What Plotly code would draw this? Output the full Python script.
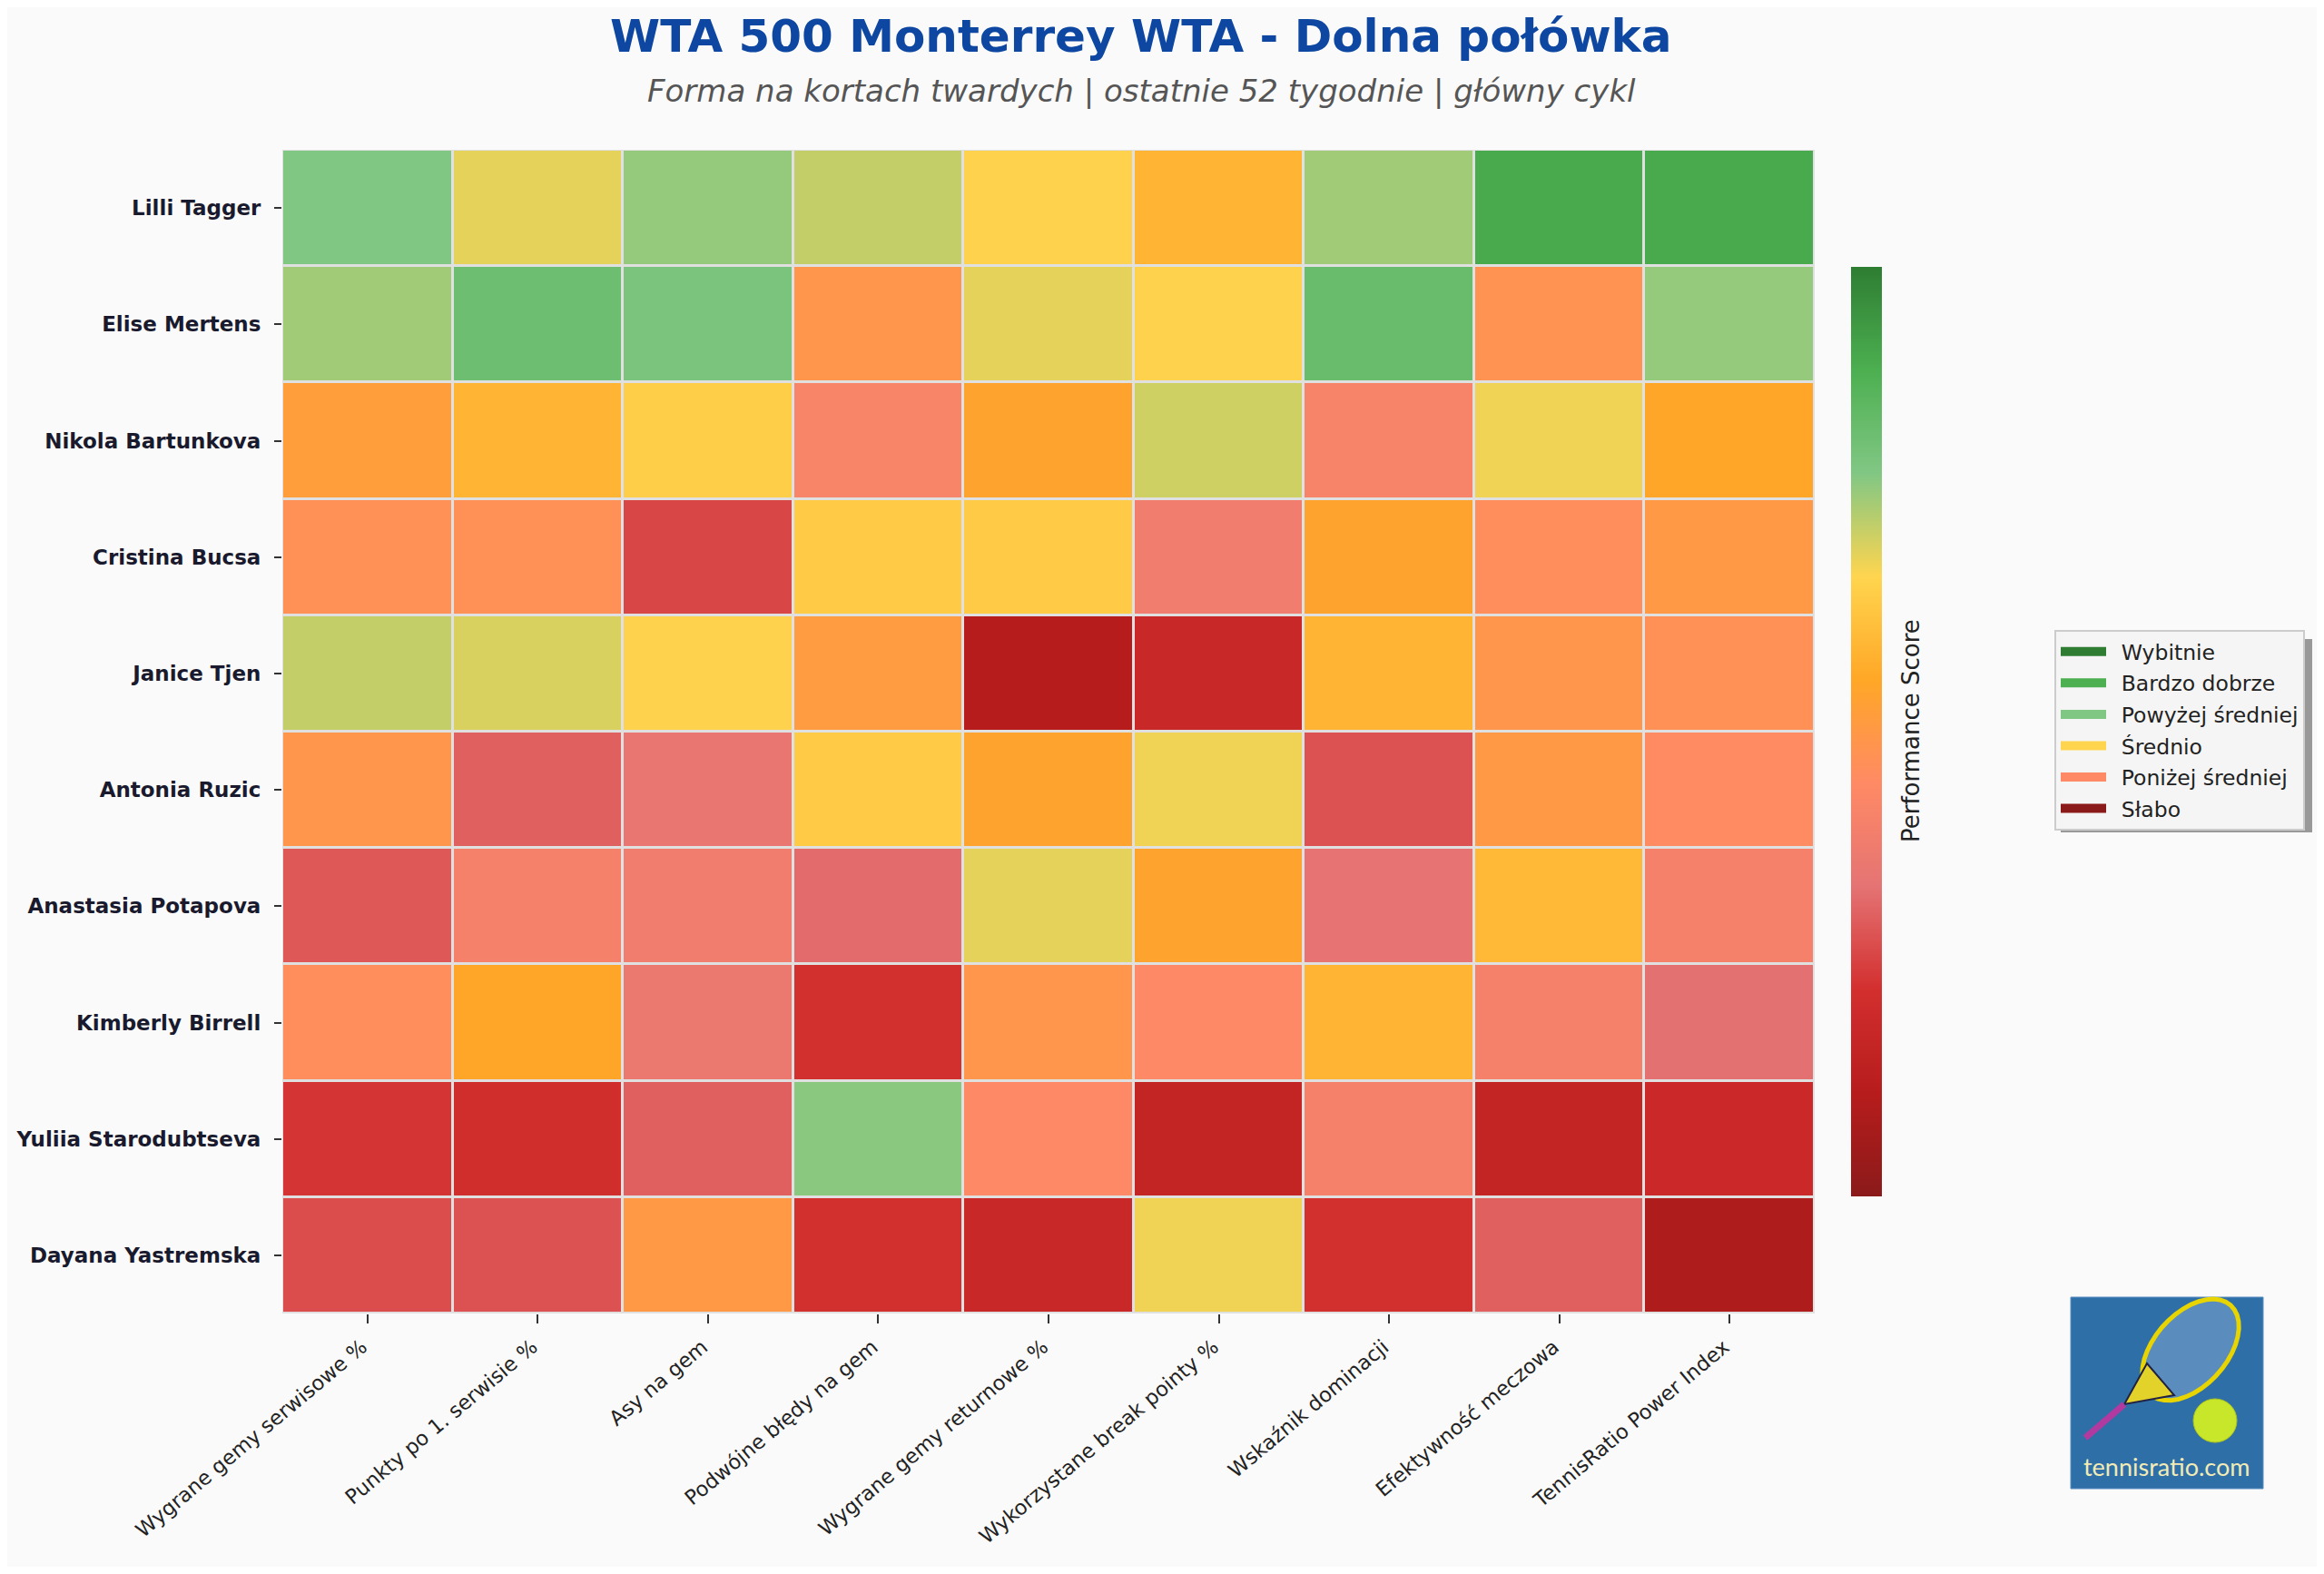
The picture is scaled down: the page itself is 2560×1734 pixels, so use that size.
import numpy as np
import plotly.graph_objects as go

# players (top -> bottom) and metrics (left -> right)
players = ['Lilli Tagger', 'Elise Mertens', 'Nikola Bartunkova', 'Cristina Bucsa', 'Janice Tjen',
           'Antonia Ruzic', 'Anastasia Potapova', 'Kimberly Birrell', 'Yuliia Starodubtseva', 'Dayana Yastremska']
metrics = ['Wygrane gemy serwisowe %', 'Punkty po 1. serwisie %', 'Asy na gem', 'Podwójne błędy na gem',
           'Wygrane gemy returnowe %', 'Wykorzystane break pointy %', 'Wskaźnik dominacji',
           'Efektywność meczowa', 'TennisRatio Power Index']

# performance score 0-100
tagger      = [78, 69, 76, 72, 66, 59, 75, 90, 90]
mertens     = [75, 82, 79, 49, 69, 66, 83, 48, 76]
bartunkova  = [52, 59, 65, 42, 54, 71, 41, 68, 55]
bucsa       = [47, 47, 26, 64, 64, 38, 54, 46, 50]
tjen        = [72, 70, 66, 51, 11, 18, 59, 49, 47]
ruzic       = [49, 30, 35, 64, 54, 68, 28, 50, 45]
potapova    = [29, 40, 38, 32, 69, 54, 34, 60, 40]
birrell     = [46, 55, 36, 22, 49, 44, 59, 40, 33]
starodubtseva = [23, 21, 30, 77, 44, 16, 40, 16, 19]
yastremska  = [27, 28, 50, 22, 18, 68, 22, 30, 9]

scores = [tagger, mertens, bartunkova, bucsa, tjen, ruzic, potapova, birrell, starodubtseva, yastremska]

cmap_colors = ['#8B1A1A', '#B71C1C', '#D32F2F', '#E57373', '#FF8A65',
               '#FFA726', '#FFD54F', '#81C784', '#4CAF50', '#2E7D32']

legend_labels = ['Wybitnie', 'Bardzo dobrze', 'Powyżej średniej', 'Średnio', 'Poniżej średniej', 'Słabo']
legend_colors = ['#2E7D32', '#4CAF50', '#81C784', '#FFD54F', '#FF8A65', '#8B1A1A']

# page is 2560x1734, html body has an 8px margin
PAD = 8
W, H = 2560 - 2 * PAD, 1734 - 2 * PAD
PLOT_X0, PLOT_X1, PLOT_Y0, PLOT_Y1 = 311, 1999, 165, 1447   # plot area in page pixels
PW, PH = PLOT_X1 - PLOT_X0, PLOT_Y1 - PLOT_Y0
L, T = PLOT_X0 - PAD, PLOT_Y0 - PAD
R, B = W - L - PW, H - T - PH


def px(x):  # page pixel -> paper x
    return (x - PLOT_X0) / PW


def py(y):  # page pixel -> paper y
    return (PLOT_Y1 - y) / PH


colorscale = [[i / (len(cmap_colors) - 1), c] for i, c in enumerate(cmap_colors)]

fig = go.Figure()
fig.add_trace(go.Heatmap(
    z=scores, x=metrics, y=players, zmin=0, zmax=100,
    colorscale=colorscale, xgap=3, ygap=3,
    colorbar=dict(thickness=34, lenmode='pixels', len=1024, x=px(2039), xanchor='left', xpad=0, ypad=0,
                  y=0.5, yanchor='middle', outlinewidth=0, ticks='', showticklabels=False),
    showlegend=False,
))

# legend entries (patches); the en space pushes the text away from the patch
for lab, col in zip(legend_labels, legend_colors):
    fig.add_trace(go.Scatter(x=[None], y=[None], mode='lines', name='\u2002' + lab, legendgroup=lab,
                             line=dict(color=col, width=18), hoverinfo='skip'))

shapes = []
# legend shadow
shapes.append(dict(type='rect', xref='paper', yref='paper', layer='below',
                   x0=px(2270), x1=px(2547), y0=py(917), y1=py(704),
                   fillcolor='#999999', line=dict(width=0)))

# logo (tennisratio.com)
shapes.append(dict(type='rect', xref='paper', yref='paper', x0=px(2281), x1=px(2493), y0=py(1640), y1=py(1429),
                   fillcolor='#2F6FA8', line=dict(color='#5B8EC0', width=1)))
t = np.linspace(0, 2 * np.pi, 40)
ang = np.deg2rad(-48)
cx, cy, a, b = 2413, 1487, 66, 40
ex = cx + a * np.cos(t) * np.cos(ang) - b * np.sin(t) * np.sin(ang)
ey = cy + a * np.cos(t) * np.sin(ang) + b * np.sin(t) * np.cos(ang)
head = 'M ' + ' L '.join(f'{px(x_):.5f},{py(y_):.5f}' for x_, y_ in zip(ex, ey)) + ' Z'
shapes.append(dict(type='path', xref='paper', yref='paper', path=head,
                   fillcolor='rgba(120,160,205,0.6)', line=dict(color='#E8D400', width=5)))
throat = f'M {px(2340)},{py(1547)} L {px(2365)},{py(1502)} L {px(2395)},{py(1537)} Z'
shapes.append(dict(type='path', xref='paper', yref='paper', path=throat,
                   fillcolor='#E3D22A', line=dict(color='#222244', width=2)))
shapes.append(dict(type='line', xref='paper', yref='paper', x0=px(2340), y0=py(1547), x1=px(2297), y1=py(1584),
                   line=dict(color='#B03AA0', width=7)))
shapes.append(dict(type='circle', xref='paper', yref='paper', x0=px(2416), x1=px(2464), y0=py(1589), y1=py(1541),
                   fillcolor='#C8E62A', line=dict(color='#A8C020', width=1)))

fig.update_layout(
    width=W, height=H,
    margin=dict(l=L, r=R, t=T, b=B),
    paper_bgcolor='#FAFAFA', plot_bgcolor='#E0E0E0',
    font=dict(family='DejaVu Sans', color='#222'),
    showlegend=True,
    legend=dict(x=px(2263), y=py(694), xanchor='left', yanchor='top',
                bgcolor='#F5F5F5', bordercolor='#CCCCCC', borderwidth=2,
                font=dict(family='DejaVu Sans', size=23.5, color='#222'),
                itemwidth=50, tracegroupgap=1),
    shapes=shapes,
    annotations=[
        dict(text='<b>WTA 500 Monterrey WTA - Dolna połówka</b>', xref='paper', yref='paper',
             x=px(1257), y=py(40), xanchor='center', yanchor='middle', showarrow=False,
             font=dict(family='DejaVu Sans', size=50, color='#0D47A1')),
        dict(text='Forma na kortach twardych | ostatnie 52 tygodnie | główny cykl', xref='paper', yref='paper',
             x=px(1257), y=py(100), xanchor='center', yanchor='middle', showarrow=False,
             font=dict(family='DejaVu Sans', size=34, color='#555555', style='italic')),
        dict(text='Performance Score', xref='paper', yref='paper', x=px(2105), y=py(805),
             xanchor='center', yanchor='middle', showarrow=False, textangle=-90,
             font=dict(family='DejaVu Sans', size=26, color='#222')),
        dict(text='tennisratio.com', xref='paper', yref='paper', x=px(2387), y=py(1615),
             xanchor='center', yanchor='middle', showarrow=False,
             font=dict(family='Lato', size=27, color='#F2EBB5')),
    ],
)

fig.update_xaxes(tickangle=-40, ticks='outside', ticklen=10, tickwidth=2, tickcolor='#333',
                 ticklabelstandoff=4, ticklabelshift=-6, automargin=False,
                 tickfont=dict(family='DejaVu Sans', size=22.5, color='#222'), showgrid=False, zeroline=False)
fig.update_yaxes(autorange='reversed', ticks='outside', ticklen=8, tickwidth=2, tickcolor='#333',
                 ticklabelstandoff=10, automargin=False,
                 tickfont=dict(family='DejaVu Sans', size=23, color='#1A1A2E', weight='bold'),
                 showgrid=False, zeroline=False)

fig.write_html('out.html')
